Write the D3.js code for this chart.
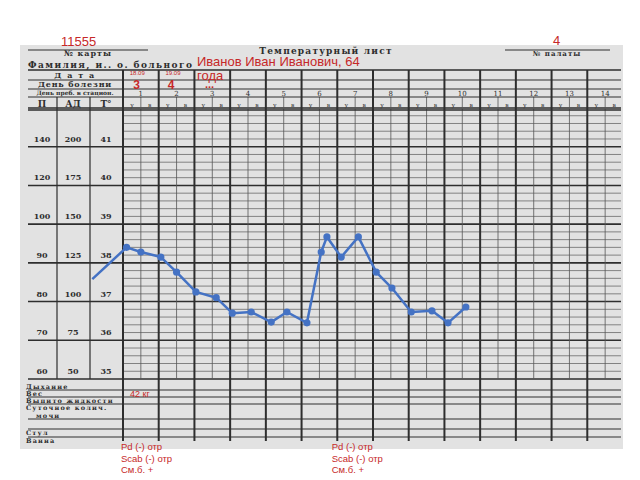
<!DOCTYPE html>
<html><head><meta charset="utf-8">
<script src="https://cdn.jsdelivr.net/npm/d3@7"></script>
<style>body{margin:0;background:#fff}svg{display:block}</style>
</head><body><svg id="c" width="640" height="480"></svg>
<script>
// ---- data ----
const days = [1,2,3,4,5,6,7,8,9,10,11,12,13,14];
const tempTicks = [41,40,39,38,37,36,35];
const pulseTicks = [140,120,100,90,80,70,60];
const bpTicks = [200,175,150,125,100,75,50];
const tempDayPos = [0.14,1.10,1.50,2.06,2.50,3.04,3.61,4.06,4.59,5.15,5.59,6.15,6.55,6.71,7.11,7.59,8.09,8.53,9.07,9.65,10.10,10.60];
const tempValues = [37.58,38.40,38.28,38.15,37.76,37.25,37.10,36.70,36.73,36.47,36.73,36.45,38.28,38.67,38.15,38.67,37.76,37.35,36.73,36.76,36.45,36.86];
const lowerRows = [["Дыхание",388.5],["Вес",395.8],["Выпито жидкости",402.8],["Суточное колич.",410],["мочи",417.5],["Стул",434.5],["Ванна",443]];
const lowerLines = [390,397,404,419,429,437];
const noteLines = ["Pd (-) отр","Scab (-) отр","См.б. +"];
const noteDays = [1,6.9];

const svg = d3.select("#c");
const x = d3.scaleLinear().domain([1,15]).range([123,623]);
const y = d3.scaleLinear().domain([35,42]).range([379,108]);
const R = 621, L = 28;
const ink = "#2e2e2e", red = "#c62828", blue = "#4472c4";
const serif = "'DejaVu Serif','Liberation Serif',serif";

// sheet
svg.append("rect").attr("x",20).attr("y",45).attr("width",603).attr("height",404).attr("fill","#e2e2e2");

const g = svg.append("g");
function hl(y0,x0,x1,w,c){g.append("line").attr("x1",x0).attr("x2",x1).attr("y1",y0).attr("y2",y0).attr("stroke",c||ink).attr("stroke-width",w);}
function vl(x0,y0,y1,w,c){g.append("line").attr("x1",x0).attr("x2",x0).attr("y1",y0).attr("y2",y1).attr("stroke",c||ink).attr("stroke-width",w);}
function tx(t,x0,y0,o){const e=g.append("text").attr("x",x0).attr("y",y0).text(t)
  .attr("font-family",o&&o.f||serif).attr("font-size",o&&o.s||8).attr("font-weight",o&&o.w||"bold")
  .attr("fill",o&&o.c||ink).attr("text-anchor",o&&o.a||"start");
  if(o&&o.ls) e.attr("letter-spacing",o.ls); return e;}

// sub rows
d3.range(35,42.01,0.2).forEach(t=>{ const isInt=Math.abs(t-Math.round(t))<0.01;
  if(!isInt) hl(y(t),x(1),R,0.8,"#6a6a6a"); });
tempTicks.concat([42]).forEach(t=>hl(y(t),L,R,1.6));
// half-day verticals
days.forEach(d=>vl(x(d+0.5),97,379,0.8,"#555"));
// day boundaries
days.forEach(d=>vl(x(d),70,441,2));
// header lines
hl(50,L,148,1); hl(50,505,610,1);
hl(70,L,R,1.5); hl(80,L,R,1); hl(89,L,R,1); hl(97,L,R,1.2); hl(110,L,R,1.6);
vl(57,97,379,1.2); vl(90,97,379,1.2);
// lower rows
lowerLines.forEach(v=>hl(v,L,R,1));

// header texts
tx("№ карты",88,56,{a:"middle",ls:1});
tx("№ палаты",557,56,{a:"middle",ls:1,s:7});
tx("Температурный лист",326,53.5,{a:"middle",ls:1.2,s:9});
tx("Фамилия, и.. о. больного",28,68,{ls:1.4,s:9});
tx("Д а т а",75,78,{a:"middle",ls:1.5});
tx("День болезни",75,87,{a:"middle",ls:0.8});
tx("День преб. в стацион.",75,95,{a:"middle",s:6});
tx("П",42,107,{a:"middle",s:9}); tx("АД",73,107,{a:"middle",s:9}); tx("Т°",106,107,{a:"middle",s:9});
days.forEach(d=>{ tx(String(d),x(d+0.5),95.5,{a:"middle",s:7,w:"normal"});
  tx("у",x(d+0.25),107,{a:"middle",s:6,w:"normal"}); tx("в",x(d+0.75),107,{a:"middle",s:6,w:"normal"}); });
tempTicks.forEach((t,i)=>{ const yy=y(t)-5;
  tx(pulseTicks[i],42,yy,{a:"middle"}); tx(bpTicks[i],73,yy,{a:"middle"}); tx(t,106,yy,{a:"middle"}); });
lowerRows.forEach(([t,yy])=>tx(t,t==="мочи"?36:26,yy,{ls:1.2,s:6.5}));

// red annotations
const sans = "'Liberation Sans',Arial,sans-serif";
tx("11555",61,46,{f:sans,s:13,w:"normal",c:red});
tx("4",553,45,{f:sans,s:13,w:"normal",c:red});
tx("Иванов Иван Иванович, 64",197,65.5,{f:sans,s:13,w:"normal",c:red});
tx("года",197,80,{f:sans,s:13,w:"normal",c:red});
tx("...",205,87.5,{f:sans,s:11,w:"bold",c:red});
tx("18.09",x(1.4),75,{f:sans,s:6,w:"normal",c:red,a:"middle"});
tx("19.09",x(2.4),75,{f:sans,s:6,w:"normal",c:red,a:"middle"});
tx("3",x(1.38),89,{f:sans,s:12,w:"bold",c:red,a:"middle"});
tx("4",x(2.35),89,{f:sans,s:12,w:"bold",c:red,a:"middle"});
tx("42 кг",130,397,{f:sans,s:9,w:"normal",c:red});
noteDays.forEach(d=>noteLines.forEach((t,i)=>tx(t,x(d)-2,450+i*11.5,{f:sans,s:9.5,w:"normal",c:red})));

// temperature curve
const pts = tempDayPos.map((d,i)=>[x(d),y(tempValues[i])]);
svg.append("path").attr("d",d3.line()(pts)).attr("fill","none").attr("stroke",blue).attr("stroke-width",2.5).attr("stroke-linejoin","round");
svg.selectAll("circle.m").data(pts.slice(1)).enter().append("circle").attr("class","m")
  .attr("cx",p=>p[0]).attr("cy",p=>p[1]).attr("r",3.6).attr("fill",blue);
</script></body></html>
